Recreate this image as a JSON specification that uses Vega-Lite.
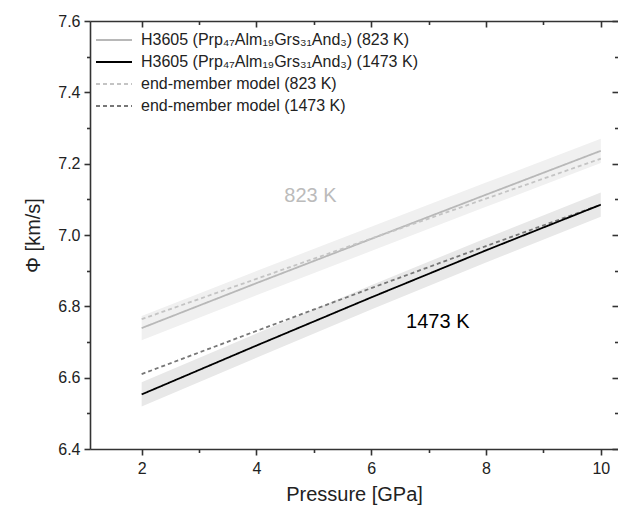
{
  "$schema": "https://vega.github.io/schema/vega-lite/v6.json",
  "width": 528,
  "height": 428,
  "autosize": {"type": "none"},
  "padding": {"left": 90, "top": 21, "right": 0, "bottom": 67},
  "background": "white",
  "config": {
    "view": {"stroke": null},
    "font": "Liberation Sans",
    "axis": {
      "domainColor": "#333333",
      "domainWidth": 1.6,
      "tickColor": "#333333",
      "tickWidth": 1.6,
      "labelColor": "#222222",
      "titleColor": "#222222",
      "labelFontSize": 16,
      "titleFontSize": 20,
      "titleFontWeight": "normal",
      "grid": false
    },
    "legend": {
      "labelFontSize": 16,
      "labelColor": "#222222",
      "labelLimit": 400
    }
  },
  "datasets": {
    "lines": [
      {"series": "H3605 (Prp₄₇Alm₁₉Grs₃₁And₃) (823 K)", "P": 2, "v": 6.739},
      {"series": "H3605 (Prp₄₇Alm₁₉Grs₃₁And₃) (823 K)", "P": 4, "v": 6.865},
      {"series": "H3605 (Prp₄₇Alm₁₉Grs₃₁And₃) (823 K)", "P": 6, "v": 6.989},
      {"series": "H3605 (Prp₄₇Alm₁₉Grs₃₁And₃) (823 K)", "P": 8, "v": 7.113},
      {"series": "H3605 (Prp₄₇Alm₁₉Grs₃₁And₃) (823 K)", "P": 10, "v": 7.236},
      {"series": "end-member model (823 K)", "P": 2, "v": 6.764},
      {"series": "end-member model (823 K)", "P": 4, "v": 6.877},
      {"series": "end-member model (823 K)", "P": 6, "v": 6.99},
      {"series": "end-member model (823 K)", "P": 8, "v": 7.102},
      {"series": "end-member model (823 K)", "P": 10, "v": 7.214},
      {"series": "end-member model (1473 K)", "P": 2, "v": 6.61},
      {"series": "end-member model (1473 K)", "P": 4, "v": 6.731},
      {"series": "end-member model (1473 K)", "P": 6, "v": 6.851},
      {"series": "end-member model (1473 K)", "P": 8, "v": 6.969},
      {"series": "end-member model (1473 K)", "P": 10, "v": 7.085},
      {"series": "H3605 (Prp₄₇Alm₁₉Grs₃₁And₃) (1473 K)", "P": 2, "v": 6.553},
      {"series": "H3605 (Prp₄₇Alm₁₉Grs₃₁And₃) (1473 K)", "P": 4, "v": 6.69},
      {"series": "H3605 (Prp₄₇Alm₁₉Grs₃₁And₃) (1473 K)", "P": 6, "v": 6.825},
      {"series": "H3605 (Prp₄₇Alm₁₉Grs₃₁And₃) (1473 K)", "P": 8, "v": 6.957},
      {"series": "H3605 (Prp₄₇Alm₁₉Grs₃₁And₃) (1473 K)", "P": 10, "v": 7.085}
    ],
    "bands": [
      {"T": "823", "P": 2, "lo": 6.705, "hi": 6.773},
      {"T": "823", "P": 4, "lo": 6.831, "hi": 6.899},
      {"T": "823", "P": 6, "lo": 6.955, "hi": 7.023},
      {"T": "823", "P": 8, "lo": 7.079, "hi": 7.147},
      {"T": "823", "P": 10, "lo": 7.202, "hi": 7.27},
      {"T": "1473", "P": 2, "lo": 6.519, "hi": 6.587},
      {"T": "1473", "P": 4, "lo": 6.656, "hi": 6.724},
      {"T": "1473", "P": 6, "lo": 6.791, "hi": 6.859},
      {"T": "1473", "P": 8, "lo": 6.923, "hi": 6.991},
      {"T": "1473", "P": 10, "lo": 7.051, "hi": 7.119}
    ],
    "labels": [
      {"T": "823", "P": 4.94, "v": 7.109, "text": "823 K"},
      {"T": "1473", "P": 7.16, "v": 6.756, "text": "1473 K"}
    ]
  },
  "resolve": {"axis": {"x": "independent", "y": "independent"}},
  "layer": [
    {
      "data": {"name": "bands"},
      "transform": [{"filter": "datum.T === '823'"}],
      "mark": {"type": "area", "color": "#f0f0f0", "opacity": 1},
      "encoding": {
        "x": {
          "field": "P", "type": "quantitative",
          "scale": {"domain": [1.1, 10.3], "nice": false, "zero": false},
          "axis": {
            "orient": "bottom",
            "title": "Pressure [GPa]",
            "values": [2, 3, 4, 5, 6, 7, 8, 9, 10],
            "labelExpr": "(datum.value % 2 === 0) ? datum.label : ''",
            "tickSize": {"condition": {"test": "datum.value % 2 === 0", "value": 6}, "value": 3.5},
            "labelPadding": 5,
            "titlePadding": 8
          }
        },
        "y": {
          "field": "lo", "type": "quantitative",
          "scale": {"domain": [6.4, 7.6], "nice": false, "zero": false},
          "axis": {
            "orient": "left",
            "title": "Φ [km/s]",
            "values": [6.4, 6.5, 6.6, 6.7, 6.8, 6.9, 7.0, 7.1, 7.2, 7.3, 7.4, 7.5, 7.6],
            "labelExpr": "(round(datum.value * 10) % 2 === 0) ? format(datum.value, '.1f') : ''",
            "tickSize": {"condition": {"test": "round(datum.value * 10) % 2 === 0", "value": 6}, "value": 3.5},
            "labelPadding": 4,
            "titlePadding": 14
          }
        },
        "y2": {"field": "hi"}
      }
    },
    {
      "data": {"name": "bands"},
      "transform": [{"filter": "datum.T === '1473'"}],
      "mark": {"type": "area", "color": "#e8e8e8", "opacity": 1},
      "encoding": {
        "x": {"field": "P", "type": "quantitative", "scale": {"domain": [1.1, 10.3], "nice": false, "zero": false}, "axis": null},
        "y": {"field": "lo", "type": "quantitative", "scale": {"domain": [6.4, 7.6], "nice": false, "zero": false}, "axis": null},
        "y2": {"field": "hi"}
      }
    },
    {
      "data": {"name": "lines"},
      "mark": {"type": "line", "strokeWidth": 1.8},
      "encoding": {
        "x": {
          "field": "P", "type": "quantitative",
          "scale": {"domain": [1.1, 10.3], "nice": false, "zero": false},
          "axis": {
            "orient": "top",
            "title": null,
            "labels": false,
            "values": [2, 3, 4, 5, 6, 7, 8, 9, 10],
            "tickSize": {"condition": {"test": "datum.value % 2 === 0", "value": -6}, "value": -3.5}
          }
        },
        "y": {
          "field": "v", "type": "quantitative",
          "scale": {"domain": [6.4, 7.6], "nice": false, "zero": false},
          "axis": {
            "orient": "right",
            "title": null,
            "labels": false,
            "domain": false,
            "values": [6.4, 6.5, 6.6, 6.7, 6.8, 6.9, 7.0, 7.1, 7.2, 7.3, 7.4, 7.5, 7.6],
            "tickSize": {"condition": {"test": "round(datum.value * 10) % 2 === 0", "value": -6}, "value": -3.5}
          }
        },
        "color": {
          "field": "series", "type": "nominal",
          "scale": {
            "domain": ["H3605 (Prp₄₇Alm₁₉Grs₃₁And₃) (823 K)", "H3605 (Prp₄₇Alm₁₉Grs₃₁And₃) (1473 K)", "end-member model (823 K)", "end-member model (1473 K)"],
            "range": ["#b8b8b8", "#000000", "#c4c4c4", "#777777"]
          },
          "legend": {
            "orient": "none",
            "legendX": 16,
            "legendY": 11,
            "title": null,
            "padding": 0,
            "symbolType": "M-4,0H4",
            "symbolSize": 81,
            "symbolStrokeWidth": 2,
            "labelOffset": 19,
            "rowPadding": 6
          }
        },
        "strokeDash": {
          "field": "series", "type": "nominal",
          "scale": {
            "domain": ["H3605 (Prp₄₇Alm₁₉Grs₃₁And₃) (823 K)", "H3605 (Prp₄₇Alm₁₉Grs₃₁And₃) (1473 K)", "end-member model (823 K)", "end-member model (1473 K)"],
            "range": [[1, 0], [1, 0], [4, 3], [4, 3]]
          }
        },
        "order": {"field": "P"}
      }
    },
    {
      "data": {"name": "labels"},
      "transform": [{"filter": "datum.T === '823'"}],
      "mark": {"type": "text", "fontSize": 20, "color": "#bbbbbb", "align": "center", "baseline": "middle"},
      "encoding": {
        "x": {"field": "P", "type": "quantitative", "scale": {"domain": [1.1, 10.3], "nice": false, "zero": false}, "axis": null},
        "y": {"field": "v", "type": "quantitative", "scale": {"domain": [6.4, 7.6], "nice": false, "zero": false}, "axis": null},
        "text": {"field": "text"}
      }
    },
    {
      "data": {"name": "labels"},
      "transform": [{"filter": "datum.T === '1473'"}],
      "mark": {"type": "text", "fontSize": 20, "color": "#000000", "align": "center", "baseline": "middle"},
      "encoding": {
        "x": {"field": "P", "type": "quantitative", "scale": {"domain": [1.1, 10.3], "nice": false, "zero": false}, "axis": null},
        "y": {"field": "v", "type": "quantitative", "scale": {"domain": [6.4, 7.6], "nice": false, "zero": false}, "axis": null},
        "text": {"field": "text"}
      }
    }
  ]
}
